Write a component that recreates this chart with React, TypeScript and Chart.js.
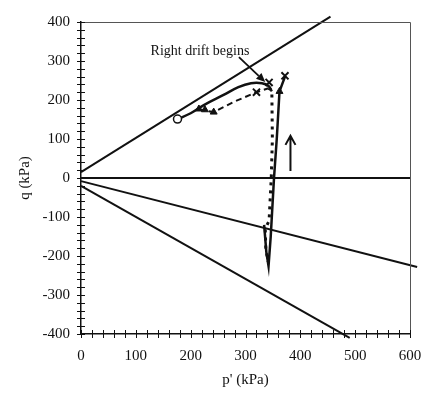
import React, { useEffect, useRef } from "react";
import { Chart, registerables } from "chart.js";

Chart.register(...registerables);

// ---- axis settings ----
const xMin = 0;
const xMax = 600;
const yMin = -400;
const yMax = 400;
const minorStep = 20;
const labelStep = 100;

// ---- envelope / reference lines (p', q) ----
const upperLineP = [0, 455];
const upperLineQ = [15, 414];
const zeroLineP = [0, 600];
const zeroLineQ = [0, 0];
const lowerLine1P = [0, 613];
const lowerLine1Q = [-8, -228];
const lowerLine2P = [0, 490];
const lowerLine2Q = [-20, -410];

// ---- stress paths ----
const solidCurveP = [176, 200, 224, 260, 287, 310, 330, 342, 348];
const solidCurveQ = [151, 166, 187, 213, 233, 243, 243, 236, 222];
const solidDropP = [334, 338, 342, 346, 352, 357, 362, 372];
const solidDropQ = [-120, -190, -226, -150, 0, 100, 222, 260];
const dashedP = [215, 242, 280, 320, 342];
const dashedQ = [176, 169, 196, 220, 230];
const dottedP = [342, 348, 349, 347, 343, 336, 337, 341];
const dottedQ = [230, 225, 100, 0, -110, -130, -180, -215];

// ---- markers ----
const circleP = [176];
const circleQ = [151];
const triangleP = [215, 226, 242, 362];
const triangleQ = [177, 175, 169, 222];
const crossP = [320, 343, 372];
const crossQ = [220, 245, 262];

// ---- annotations ----
const riseArrowP = [382, 382];
const riseArrowQ = [18, 108];
const noteArrowP = [288, 336];
const noteArrowQ = [310, 246];
const noteText = "Right drift begins";
const noteP = 217;
const noteQ = 326;

const xTitle = "p' (kPa)";
const yTitle = "q (kPa)";

const INK = "#111111";
const FONT = "'Liberation Serif', 'DejaVu Serif', serif";

const zip = (p: number[], q: number[]) => p.map((v, i) => ({ x: v, y: q[i] }));

const lineDs = (p: number[], q: number[], extra: any = {}) => ({
  data: zip(p, q),
  showLine: true,
  pointRadius: 0,
  borderColor: INK,
  backgroundColor: INK,
  borderWidth: 2,
  fill: false,
  clip: false,
  tension: 0,
  ...extra,
});

const decorPlugin = {
  id: "decor",
  afterDatasetsDraw(chart: any) {
    const { ctx, chartArea: a, scales } = chart;
    const xs = scales.x;
    const ys = scales.y;
    ctx.save();
    // top and right frame
    ctx.strokeStyle = "#555";
    ctx.lineWidth = 1;
    ctx.beginPath();
    ctx.moveTo(a.left, Math.round(a.top) + 0.5);
    ctx.lineTo(Math.round(a.right) + 0.5, Math.round(a.top) + 0.5);
    ctx.lineTo(Math.round(a.right) + 0.5, a.bottom);
    ctx.stroke();
    // crossing tick marks
    ctx.strokeStyle = INK;
    ctx.lineWidth = 1;
    ctx.beginPath();
    xs.ticks.forEach((t: any) => {
      const px = Math.round(xs.getPixelForValue(t.value)) + 0.5;
      ctx.moveTo(px, a.bottom - 4);
      ctx.lineTo(px, a.bottom + 4);
    });
    ys.ticks.forEach((t: any) => {
      const py = Math.round(ys.getPixelForValue(t.value)) + 0.5;
      ctx.moveTo(a.left - 4, py);
      ctx.lineTo(a.left + 4, py);
    });
    ctx.stroke();

    // rising arrow (open head)
    const r0x = xs.getPixelForValue(riseArrowP[0]);
    const r0y = ys.getPixelForValue(riseArrowQ[0]);
    const r1x = xs.getPixelForValue(riseArrowP[1]);
    const r1y = ys.getPixelForValue(riseArrowQ[1]);
    ctx.lineWidth = 2;
    ctx.beginPath();
    ctx.moveTo(r0x, r0y);
    ctx.lineTo(r1x, r1y);
    ctx.moveTo(r1x - 5, r1y + 9);
    ctx.lineTo(r1x, r1y);
    ctx.lineTo(r1x + 5, r1y + 9);
    ctx.stroke();

    // note arrow (filled head)
    const n0x = xs.getPixelForValue(noteArrowP[0]);
    const n0y = ys.getPixelForValue(noteArrowQ[0]);
    const n1x = xs.getPixelForValue(noteArrowP[1]);
    const n1y = ys.getPixelForValue(noteArrowQ[1]);
    const ang = Math.atan2(n1y - n0y, n1x - n0x);
    const hl = 9;
    const hw = 4;
    const bx = n1x - hl * Math.cos(ang);
    const by = n1y - hl * Math.sin(ang);
    ctx.lineWidth = 1.8;
    ctx.beginPath();
    ctx.moveTo(n0x, n0y);
    ctx.lineTo(bx, by);
    ctx.stroke();
    ctx.fillStyle = INK;
    ctx.beginPath();
    ctx.moveTo(n1x, n1y);
    ctx.lineTo(bx + hw * Math.sin(ang), by - hw * Math.cos(ang));
    ctx.lineTo(bx - hw * Math.sin(ang), by + hw * Math.cos(ang));
    ctx.closePath();
    ctx.fill();

    // note text
    ctx.font = `14px ${FONT}`;
    ctx.textAlign = "center";
    ctx.textBaseline = "middle";
    ctx.fillText(noteText, xs.getPixelForValue(noteP), ys.getPixelForValue(noteQ));
    ctx.restore();
  },
};

export default function App() {
  const ref = useRef<HTMLCanvasElement | null>(null);

  useEffect(() => {
    if (!ref.current) return;
    const chart = new Chart(ref.current, {
      type: "scatter",
      data: {
        datasets: [
          {
            data: zip(circleP, circleQ),
            pointStyle: "circle",
            pointRadius: 4,
            borderWidth: 1.5,
            borderColor: INK,
            backgroundColor: "#ffffff",
            showLine: false,
            clip: false,
          },
          {
            data: zip(triangleP, triangleQ),
            pointStyle: "triangle",
            pointRadius: 4,
            borderWidth: 1,
            borderColor: INK,
            backgroundColor: INK,
            showLine: false,
            clip: false,
          },
          {
            data: zip(crossP, crossQ),
            pointStyle: "crossRot",
            pointRadius: 5,
            borderWidth: 2,
            borderColor: INK,
            backgroundColor: INK,
            showLine: false,
            clip: false,
          },
          lineDs(solidCurveP, solidCurveQ, { borderWidth: 2.5, tension: 0.4 }),
          lineDs(solidDropP, solidDropQ, { borderWidth: 2.5 }),
          lineDs(dashedP, dashedQ, { borderWidth: 2, borderDash: [6, 4] }),
          lineDs(dottedP, dottedQ, { borderWidth: 3, borderDash: [3, 5] }),
          lineDs(upperLineP, upperLineQ),
          lineDs(zeroLineP, zeroLineQ),
          lineDs(lowerLine1P, lowerLine1Q),
          lineDs(lowerLine2P, lowerLine2Q),
        ],
      },
      options: {
        animation: false,
        responsive: false,
        maintainAspectRatio: false,
        layout: { padding: { left: 0, right: 12, top: 22, bottom: 0 } },
        plugins: {
          legend: { display: false },
          tooltip: { enabled: false },
        },
        scales: {
          x: {
            type: "linear",
            min: xMin,
            max: xMax,
            afterFit: (s: any) => {
              s.height = 63;
              s.paddingLeft = 0;
              s.paddingRight = 0;
            },
            ticks: {
              stepSize: minorStep,
              autoSkip: false,
              maxRotation: 0,
              padding: 13,
              color: INK,
              font: { family: FONT, size: 15 },
              callback: (v: any) => (Number(v) % labelStep === 0 ? String(v) : ""),
            },
            grid: { display: false, drawTicks: false },
            border: { display: true, color: INK, width: 1.5 },
            title: {
              display: true,
              text: xTitle,
              color: INK,
              font: { family: FONT, size: 15 },
              padding: { top: 0, bottom: 8 },
            },
          },
          y: {
            type: "linear",
            min: yMin,
            max: yMax,
            afterFit: (s: any) => {
              s.width = 81;
              s.paddingTop = 0;
              s.paddingBottom = 0;
            },
            ticks: {
              stepSize: minorStep,
              autoSkip: false,
              padding: 11,
              color: INK,
              font: { family: FONT, size: 15 },
              callback: (v: any) => (Number(v) % labelStep === 0 ? String(v) : ""),
            },
            grid: { display: false, drawTicks: false },
            border: { display: true, color: INK, width: 1.5 },
            title: {
              display: true,
              text: yTitle,
              color: INK,
              font: { family: FONT, size: 15 },
              padding: { top: 16, bottom: 0 },
            },
          },
        },
      },
      plugins: [decorPlugin],
    } as any);
    return () => chart.destroy();
  }, []);

  return (
    <div style={{ position: "fixed", left: 0, top: 0, width: 422, height: 397, background: "#fff" }}>
      <canvas ref={ref} width={422} height={397} style={{ display: "block" }} />
    </div>
  );
}
